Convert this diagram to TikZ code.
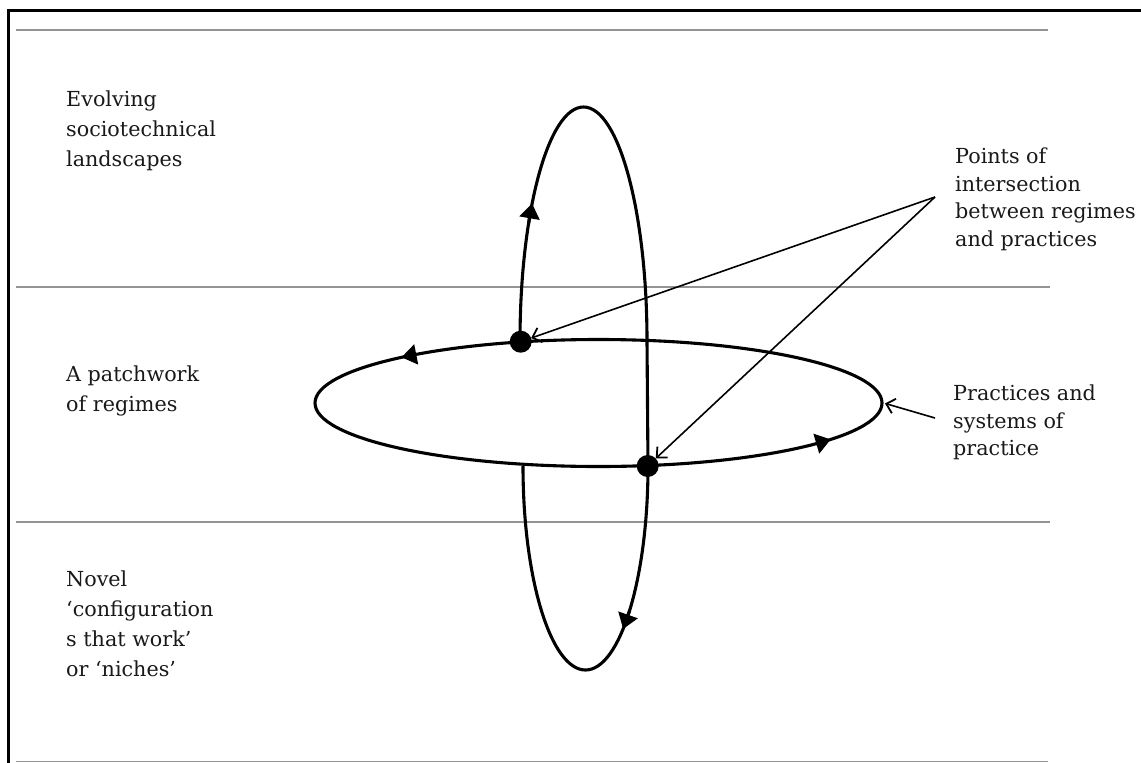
\documentclass[tikz,border=0pt]{standalone}
\usepackage{fontspec}
\setmainfont{DejaVu Serif}
\usetikzlibrary{arrows.meta,shapes.geometric}
\begin{document}
\begin{tikzpicture}[x=1pt,y=-1pt,
  loopline/.style={line width=3.1pt,black},
  sep/.style={line width=1.8pt,black!42},
  frameline/.style={line width=2.2pt,black},
  lbl/.style={anchor=north west,align=left,inner sep=0pt,text=black!90},
  lleft/.style={lbl,font=\fontsize{20.7}{30}\selectfont},
  lright/.style={lbl,font=\fontsize{20.7}{27.8}\selectfont},
  pointer/.style={line width=1.6pt,-{Straight Barb[length=8pt,width=15pt,line width=1.8pt]}},
  looptip/.style={line width=3.1pt,-{Triangle[length=15pt,width=20pt]}},
  dot/.style={circle,fill=black,minimum size=22pt,inner sep=0pt,outer sep=0pt}
]
\useasboundingbox (0,0) rectangle (1141,763);

% frame
\draw[frameline] (8.5,763) -- (8.5,10.5) -- (1141,10.5);

% separators
\draw[sep] (16,30) -- (1048,30);
\draw[sep] (16,287) -- (1050,287);
\draw[sep] (16,522) -- (1050,522);
\draw[sep] (16,761.5) -- (1048,761.5);

% horizontal loop (practices)
\node[draw,ellipse,loopline,minimum width=567pt,minimum height=127pt,inner sep=0pt] (H) at (598.5,403) {};

% vertical loop (landscapes / niches)
\draw[loopline] (520,341) arc[start angle=180,end angle=360,x radius=63.5,y radius=234]
  -- (648,466) arc[start angle=0,end angle=180,x radius=62.5,y radius=204];

% direction arrows on loops
\draw[looptip] (528.5,224) -- (532.1,203.4);
\draw[looptip] (629.7,610.2) -- (623.1,629);
\draw[looptip] (416.3,354.4) -- (401.5,357.3);
\draw[looptip] (815.7,443.8) -- (830.7,439.4);

% intersection points
\node[dot] (d1) at (520.7,341.7) {};
\node[dot] (d2) at (647.7,466) {};

% labels
\node[lleft] (land) at (66,91) {Evolving\\sociotechnical\\landscapes};
\node[lleft] (reg) at (66,365.5) {A patchwork\\of regimes};
\node[lleft] (nich) at (66,570.5) {Novel\\‘configuration\\s that work’\\or ‘niches’};
\node[lright] (pts) at (955,147.3) {Points of\\intersection\\between regimes\\and practices};
\node[lright] (prac) at (953,384.3) {Practices and\\systems of\\practice};

% pointers
\coordinate (ps) at (935,197);
\coordinate (pp) at (935,418);
\draw[pointer] (ps) -- (d1);
\draw[pointer] (ps) -- (d2);
\draw[pointer,shorten >=1.5pt] (pp) -- (H.east);
\end{tikzpicture}
\end{document}
